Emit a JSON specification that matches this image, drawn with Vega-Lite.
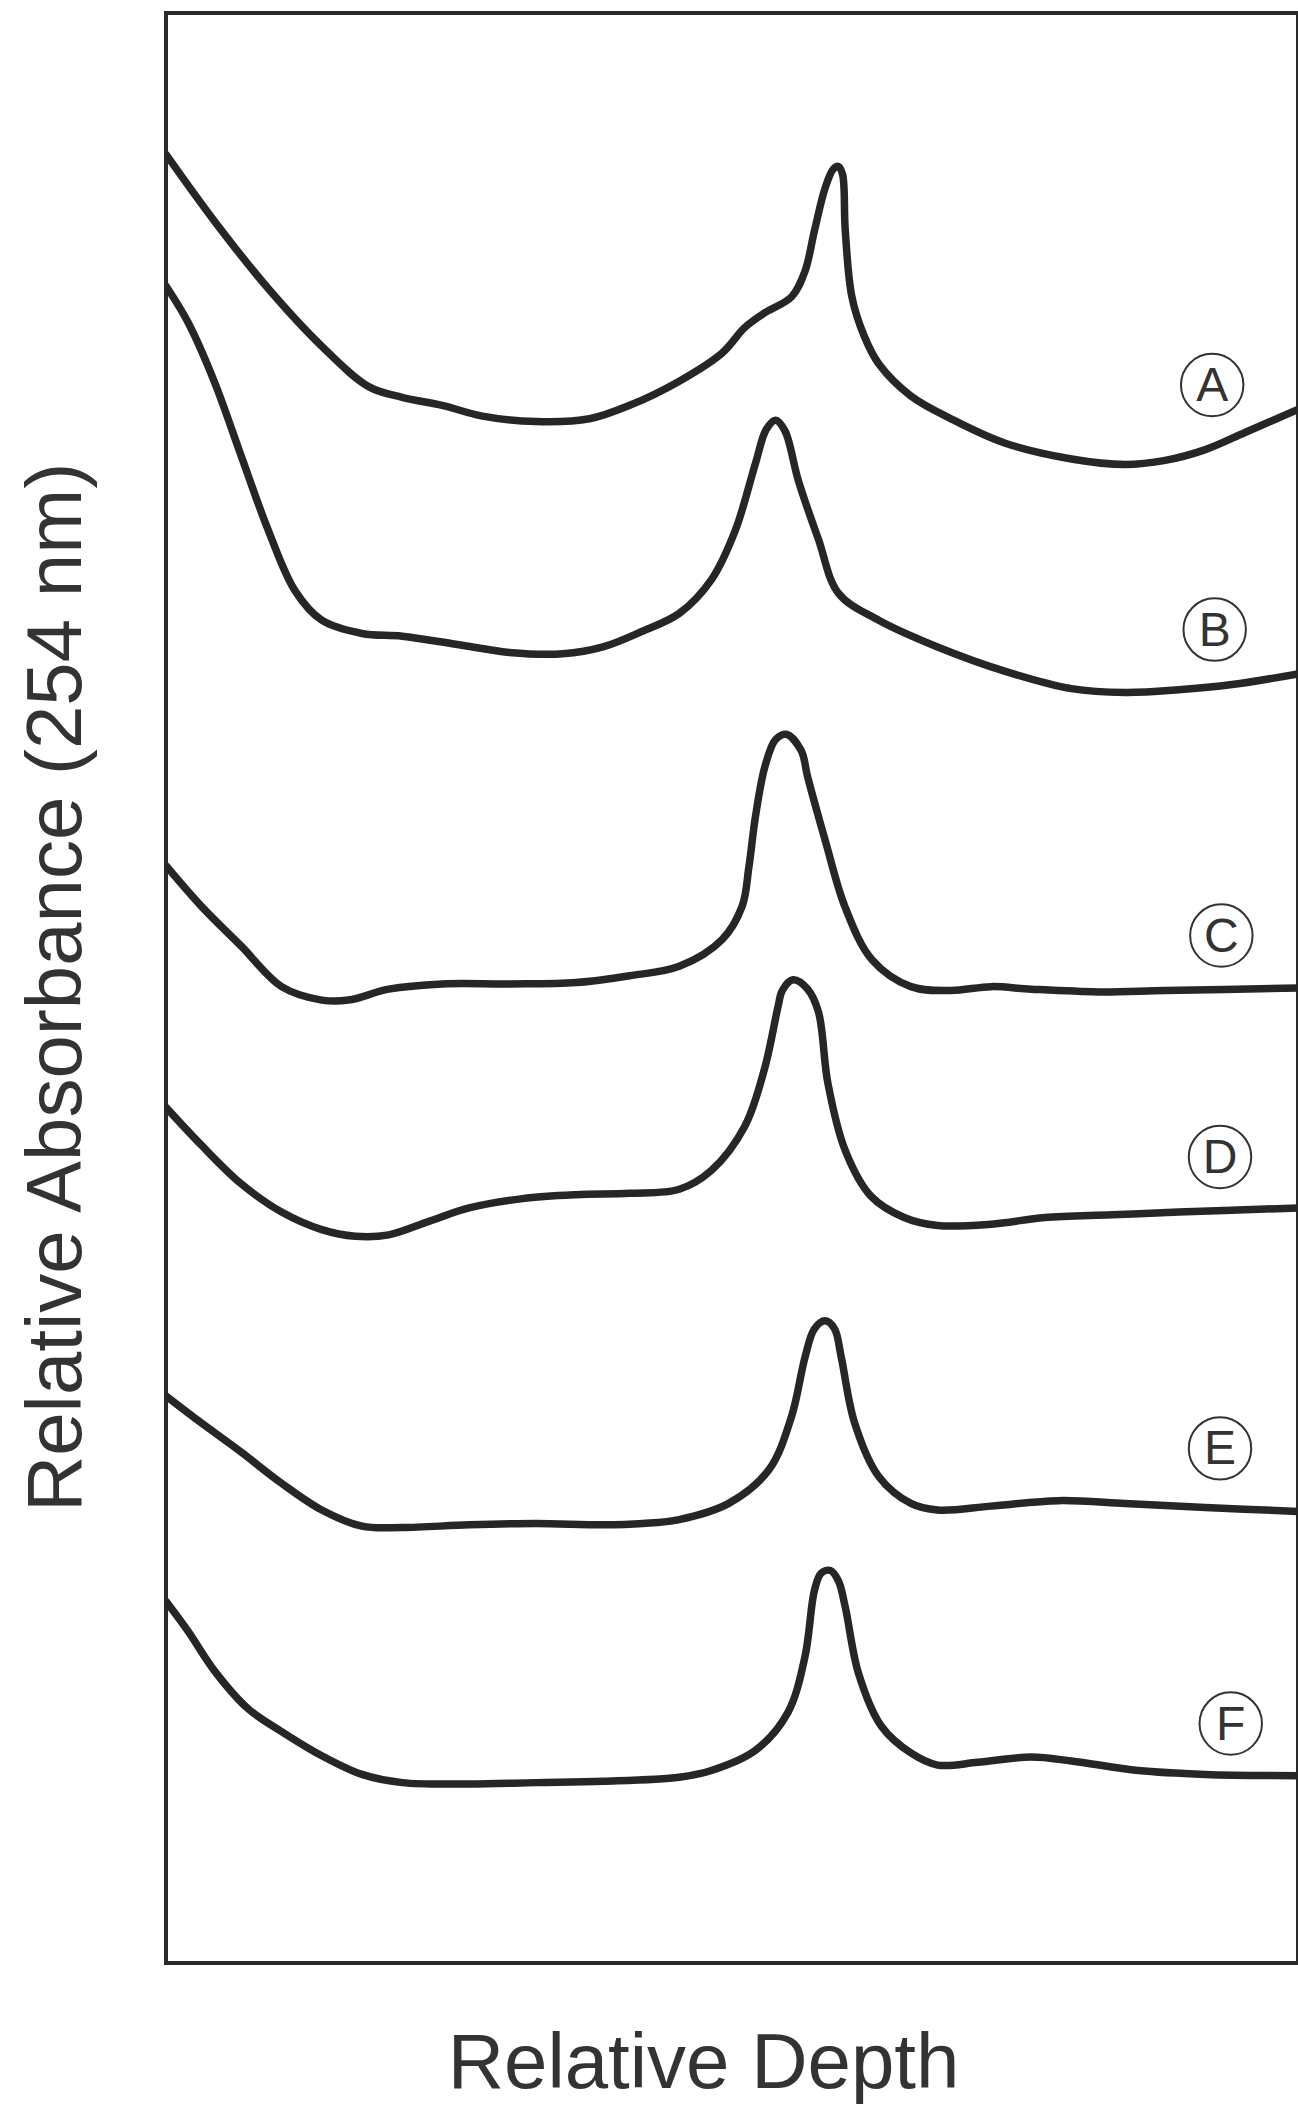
{
  "$schema": "https://vega.github.io/schema/vega-lite/v6.json",
  "width": 1132,
  "height": 1950,
  "autosize": {"type": "none"},
  "padding": {"left": 166, "top": 13, "right": 0, "bottom": 142},
  "background": "white",
  "config": {
    "view": {"stroke": "#2a2a2a", "strokeWidth": 4},
    "font": "Liberation Sans"
  },
  "datasets": {
    "curves": [
      {"s":"A","d":0,"a":92.75},{"s":"A","d":4.30,"a":89.31},{"s":"A","d":9.03,"a":85.87},{"s":"A","d":13.76,"a":82.91},{"s":"A","d":17.90,"a":80.84},{"s":"A","d":20.86,"a":80.29},{"s":"A","d":24.40,"a":79.88},{"s":"A","d":27.95,"a":79.33},{"s":"A","d":32.68,"a":79.05},{"s":"A","d":37.41,"a":79.19},{"s":"A","d":40.96,"a":79.88},{"s":"A","d":45.34,"a":81.12},{"s":"A","d":49.12,"a":82.56},{"s":"A","d":51.13,"a":83.87},{"s":"A","d":52.91,"a":84.63},{"s":"A","d":55.27,"a":85.45},{"s":"A","d":56.45,"a":86.76},{"s":"A","d":57.28,"a":88.83},{"s":"A","d":58.23,"a":91.03},{"s":"A","d":58.94,"a":91.99},{"s":"A","d":59.41,"a":92.13},{"s":"A","d":59.77,"a":91.72},{"s":"A","d":60.00,"a":88.90},{"s":"A","d":60.59,"a":85.45},{"s":"A","d":61.66,"a":83.46},{"s":"A","d":62.96,"a":82.01},{"s":"A","d":65.80,"a":80.36},{"s":"A","d":69.35,"a":79.19},{"s":"A","d":74.08,"a":77.95},{"s":"A","d":79.99,"a":77.13},{"s":"A","d":84.72,"a":76.85},{"s":"A","d":88.27,"a":77.06},{"s":"A","d":91.82,"a":77.61},{"s":"A","d":95.37,"a":78.50},{"s":"A","d":100,"a":79.67},

      {"s":"B","d":0,"a":86.00},{"s":"B","d":1.93,"a":84.15},{"s":"B","d":4.30,"a":81.05},{"s":"B","d":6.66,"a":77.26},{"s":"B","d":9.03,"a":73.48},{"s":"B","d":11.39,"a":70.38},{"s":"B","d":13.76,"a":68.86},{"s":"B","d":17.31,"a":68.18},{"s":"B","d":20.86,"a":68.04},{"s":"B","d":25.59,"a":67.63},{"s":"B","d":30.32,"a":67.21},{"s":"B","d":35.05,"a":67.14},{"s":"B","d":38.60,"a":67.49},{"s":"B","d":42.14,"a":68.31},{"s":"B","d":45.34,"a":69.21},{"s":"B","d":48.17,"a":70.93},{"s":"B","d":50.30,"a":73.48},{"s":"B","d":52.08,"a":76.92},{"s":"B","d":53.02,"a":78.64},{"s":"B","d":53.85,"a":79.12},{"s":"B","d":54.68,"a":78.57},{"s":"B","d":55.86,"a":76.02},{"s":"B","d":57.64,"a":73.00},{"s":"B","d":59.41,"a":70.24},{"s":"B","d":62.96,"a":68.86},{"s":"B","d":68.16,"a":67.49},{"s":"B","d":74.08,"a":66.25},{"s":"B","d":79.99,"a":65.35},{"s":"B","d":84.72,"a":65.15},{"s":"B","d":89.45,"a":65.29},{"s":"B","d":94.18,"a":65.56},{"s":"B","d":100,"a":66.11},

      {"s":"C","d":0,"a":56.27},{"s":"C","d":3.11,"a":54.20},{"s":"C","d":6.66,"a":52.14},{"s":"C","d":10.21,"a":50.07},{"s":"C","d":13.76,"a":49.38},{"s":"C","d":16.12,"a":49.38},{"s":"C","d":19.67,"a":49.94},{"s":"C","d":24.40,"a":50.21},{"s":"C","d":30.32,"a":50.21},{"s":"C","d":36.23,"a":50.28},{"s":"C","d":40.96,"a":50.63},{"s":"C","d":45.34,"a":51.11},{"s":"C","d":49.12,"a":52.48},{"s":"C","d":50.90,"a":54.20},{"s":"C","d":51.49,"a":56.20},{"s":"C","d":52.08,"a":58.82},{"s":"C","d":52.91,"a":61.36},{"s":"C","d":53.85,"a":62.74},{"s":"C","d":54.80,"a":63.01},{"s":"C","d":56.10,"a":62.19},{"s":"C","d":56.69,"a":60.81},{"s":"C","d":58.23,"a":57.58},{"s":"C","d":60.00,"a":54.13},{"s":"C","d":62.37,"a":51.45},{"s":"C","d":65.80,"a":50.07},{"s":"C","d":69.35,"a":49.87},{"s":"C","d":72.89,"a":50.07},{"s":"C","d":76.44,"a":49.94},{"s":"C","d":82.36,"a":49.80},{"s":"C","d":88.27,"a":49.87},{"s":"C","d":100,"a":50.00},

      {"s":"D","d":0,"a":43.88},{"s":"D","d":3.11,"a":41.95},{"s":"D","d":6.66,"a":39.95},{"s":"D","d":10.21,"a":38.51},{"s":"D","d":13.76,"a":37.61},{"s":"D","d":16.72,"a":37.27},{"s":"D","d":19.67,"a":37.34},{"s":"D","d":23.22,"a":38.03},{"s":"D","d":26.77,"a":38.72},{"s":"D","d":31.50,"a":39.20},{"s":"D","d":36.23,"a":39.40},{"s":"D","d":40.96,"a":39.47},{"s":"D","d":45.34,"a":39.68},{"s":"D","d":48.17,"a":40.64},{"s":"D","d":51.13,"a":42.91},{"s":"D","d":52.91,"a":45.94},{"s":"D","d":54.09,"a":49.11},{"s":"D","d":54.44,"a":49.87},{"s":"D","d":55.39,"a":50.42},{"s":"D","d":56.69,"a":49.94},{"s":"D","d":57.64,"a":48.77},{"s":"D","d":58.47,"a":45.12},{"s":"D","d":60.00,"a":41.67},{"s":"D","d":62.25,"a":39.34},{"s":"D","d":65.21,"a":38.23},{"s":"D","d":68.16,"a":37.82},{"s":"D","d":72.89,"a":37.89},{"s":"D","d":77.63,"a":38.23},{"s":"D","d":83.54,"a":38.37},{"s":"D","d":89.45,"a":38.51},{"s":"D","d":100,"a":38.72},

      {"s":"E","d":0,"a":29.08},{"s":"E","d":3.11,"a":27.70},{"s":"E","d":6.66,"a":26.19},{"s":"E","d":10.21,"a":24.60},{"s":"E","d":13.76,"a":23.23},{"s":"E","d":17.31,"a":22.40},{"s":"E","d":20.86,"a":22.33},{"s":"E","d":26.77,"a":22.47},{"s":"E","d":32.68,"a":22.54},{"s":"E","d":38.60,"a":22.47},{"s":"E","d":42.14,"a":22.54},{"s":"E","d":45.34,"a":22.74},{"s":"E","d":49.71,"a":23.57},{"s":"E","d":53.26,"a":25.29},{"s":"E","d":55.27,"a":28.05},{"s":"E","d":56.45,"a":31.07},{"s":"E","d":57.28,"a":32.52},{"s":"E","d":58.23,"a":32.93},{"s":"E","d":59.06,"a":32.52},{"s":"E","d":59.65,"a":31.07},{"s":"E","d":60.83,"a":27.70},{"s":"E","d":62.96,"a":24.95},{"s":"E","d":65.80,"a":23.57},{"s":"E","d":68.16,"a":23.23},{"s":"E","d":72.89,"a":23.43},{"s":"E","d":78.81,"a":23.71},{"s":"E","d":84.72,"a":23.57},{"s":"E","d":91.82,"a":23.36},{"s":"E","d":100,"a":23.16},

      {"s":"F","d":0,"a":18.55},{"s":"F","d":1.93,"a":17.03},{"s":"F","d":4.30,"a":14.97},{"s":"F","d":7.25,"a":13.04},{"s":"F","d":10.21,"a":11.87},{"s":"F","d":13.76,"a":10.63},{"s":"F","d":17.31,"a":9.67},{"s":"F","d":20.86,"a":9.25},{"s":"F","d":26.77,"a":9.18},{"s":"F","d":32.68,"a":9.25},{"s":"F","d":38.60,"a":9.32},{"s":"F","d":45.34,"a":9.53},{"s":"F","d":48.17,"a":9.87},{"s":"F","d":52.08,"a":10.91},{"s":"F","d":54.92,"a":12.83},{"s":"F","d":56.45,"a":15.72},{"s":"F","d":57.28,"a":19.10},{"s":"F","d":57.87,"a":19.99},{"s":"F","d":58.70,"a":20.13},{"s":"F","d":59.41,"a":19.58},{"s":"F","d":60.00,"a":18.27},{"s":"F","d":61.19,"a":14.83},{"s":"F","d":63.20,"a":12.14},{"s":"F","d":65.80,"a":10.77},{"s":"F","d":68.16,"a":10.15},{"s":"F","d":71.71,"a":10.29},{"s":"F","d":76.44,"a":10.56},{"s":"F","d":79.99,"a":10.36},{"s":"F","d":85.90,"a":9.87},{"s":"F","d":91.82,"a":9.67},{"s":"F","d":100,"a":9.60}
    ],
    "labels": [
      {"s":"A","d":92.42,"a":80.92},
      {"s":"B","d":92.64,"a":68.38},
      {"s":"C","d":93.23,"a":52.69},
      {"s":"D","d":93.11,"a":41.33},
      {"s":"E","d":93.11,"a":26.39},
      {"s":"F","d":94.06,"a":12.28}
    ]
  },
  "encoding": {
    "x": {
      "field": "d", "type": "quantitative",
      "scale": {"domain": [0, 100], "nice": false, "zero": false},
      "axis": {
        "title": "Relative Depth",
        "domain": false, "ticks": false, "labels": false, "grid": false,
        "titleFont": "Liberation Sans", "titleFontSize": 78, "titleFontWeight": "normal",
        "titleColor": "#333333",
        "titleX": 537, "titleY": 124, "titleAlign": "center", "titleBaseline": "alphabetic"
      }
    },
    "y": {
      "field": "a", "type": "quantitative",
      "scale": {"domain": [0, 100], "nice": false, "zero": false},
      "axis": {
        "title": "Relative Absorbance (254 nm)",
        "domain": false, "ticks": false, "labels": false, "grid": false,
        "titleFont": "Liberation Sans", "titleFontSize": 78, "titleFontWeight": "normal",
        "titleColor": "#333333",
        "titleX": -86, "titleY": 974, "titleAngle": -90, "titleAlign": "center", "titleBaseline": "alphabetic"
      }
    }
  },
  "layer": [
    {
      "data": {"name": "curves"},
      "mark": {"type": "line", "interpolate": "catmull-rom", "strokeWidth": 7.5, "color": "#262626", "clip": true, "strokeCap": "round", "strokeJoin": "round"},
      "encoding": {"detail": {"field": "s", "type": "nominal"}}
    },
    {
      "data": {"name": "labels"},
      "mark": {"type": "point", "shape": "circle", "filled": false, "size": 3900, "strokeWidth": 2, "color": "#333333", "opacity": 1}
    },
    {
      "data": {"name": "labels"},
      "mark": {"type": "text", "fontSize": 48, "font": "Liberation Sans", "color": "#333333", "align": "center", "baseline": "middle", "dy": 2},
      "encoding": {"text": {"field": "s", "type": "nominal"}}
    }
  ]
}
